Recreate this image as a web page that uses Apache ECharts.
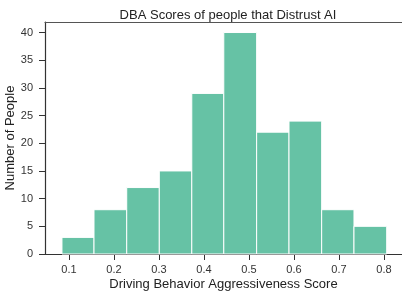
<!DOCTYPE html>
<html lang="en">
<head>
<meta charset="utf-8">
<title>DBA Scores</title>
<style>
  html, body { margin: 0; padding: 0; background: #fff; }
  #main { width: 402px; height: 294px; }
</style>
</head>
<body>
<div id="main"></div>
<script src="https://cdn.jsdelivr.net/npm/echarts@6/dist/echarts.min.js"></script>
<script>
// histogram bins (edges) and counts
var binEdges = [0.0844, 0.1556, 0.2283, 0.3007, 0.3729, 0.4440, 0.5170, 0.5889, 0.6615, 0.7333, 0.8060];
var counts = [3, 8, 12, 15, 29, 40, 22, 24, 8, 5];
var xTicks = [0.1, 0.2, 0.3, 0.4, 0.5, 0.6, 0.7, 0.8];

var bars = [];
for (var i = 0; i < counts.length; i++) {
  bars.push([binEdges[i], binEdges[i + 1], counts[i]]);
}

var font = 'Liberation Sans, Arial, sans-serif';
var myChart = echarts.init(document.getElementById('main'));
var option = {
  animation: false,
  title: {
    text: 'DBA Scores of people that Distrust AI',
    left: 223, top: 4, textAlign: 'center',
    textStyle: { fontFamily: font, fontSize: 13, fontWeight: 'normal', color: '#222' }
  },
  grid: { left: 45, right: 0, top: 22, bottom: 40, outerBoundsMode: 'none', containLabel: false },
  xAxis: [{
    type: 'value',
    min: 0.0467, max: 0.84,
    name: 'Driving Behavior Aggressiveness Score',
    nameLocation: 'middle', nameGap: 24, nameMoveOverlap: false,
    nameTextStyle: { fontFamily: font, fontSize: 13, color: '#222' },
    axisLine: { lineStyle: { color: '#333', width: 1.2 } },
    axisTick: { customValues: xTicks, length: 6, lineStyle: { color: '#333' } },
    axisLabel: { customValues: xTicks, fontFamily: font, fontSize: 11, color: '#333', margin: 10,
      formatter: function (v) { return v.toFixed(1); } },
    splitLine: { show: false }
  }, {
    type: 'value', position: 'top',
    min: 0.0467, max: 0.84,
    axisLine: { show: true, lineStyle: { color: '#555', width: 1.2 } },
    axisTick: { show: false }, axisLabel: { show: false }, splitLine: { show: false }
  }],
  yAxis: {
    type: 'value',
    min: 0, max: 41.9, interval: 5,
    name: 'Number of People',
    nameLocation: 'middle', nameGap: 28, nameMoveOverlap: false,
    nameTextStyle: { fontFamily: font, fontSize: 13, color: '#222' },
    axisLine: { show: true, lineStyle: { color: '#333', width: 1.2 } },
    axisTick: { show: true, length: 6, lineStyle: { color: '#333' } },
    axisLabel: { fontFamily: font, fontSize: 11, color: '#333', margin: 12,
      showMaxLabel: false },
    splitLine: { show: false }
  },
  series: [{
    type: 'custom',
    xAxisIndex: 0,
    data: bars,
    renderItem: function (params, api) {
      var p0 = api.coord([api.value(0), api.value(2)]);
      var p1 = api.coord([api.value(1), 0]);
      return {
        type: 'rect',
        shape: { x: p0[0], y: p0[1], width: p1[0] - p0[0], height: p1[1] - p0[1] },
        style: { fill: '#66c2a5', stroke: '#ffffff', lineWidth: 1 }
      };
    }
  }]
};
myChart.setOption(option);
</script>
</body>
</html>
